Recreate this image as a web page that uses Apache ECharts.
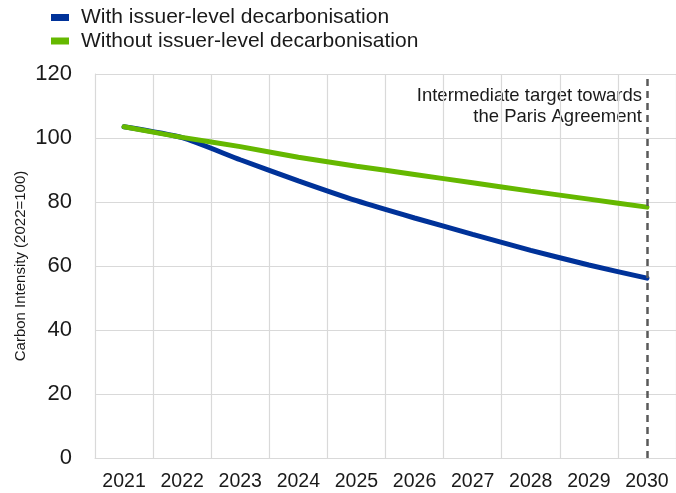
<!DOCTYPE html>
<html>
<head>
<meta charset="utf-8">
<script src="https://cdn.jsdelivr.net/npm/echarts@6/dist/echarts.min.js"></script>
<style>
  html, body { margin: 0; padding: 0; background: #fff; }
  #chart { width: 676px; height: 493px; }
</style>
</head>
<body>
<div id="chart"></div>
<script>
// Carbon intensity projections, indexed to 2022 = 100
const years = ['2021', '2022', '2023', '2024', '2025', '2026', '2027', '2028', '2029', '2030'];
const withIssuer = [103.5, 100.1, 93.2, 86.6, 80.4, 75.0, 69.9, 64.9, 60.3, 56.2];
const withoutIssuer = [103.5, 100.2, 97.3, 94.0, 91.2, 88.6, 86.0, 83.4, 80.9, 78.4];
const yTicks = { min: 0, max: 120, interval: 20 };
const targetYear = '2030';
const targetNote = 'Intermediate target towards\nthe Paris Agreement';

const FONT = '"Liberation Sans", Arial, sans-serif';
const TEXT = '#1a1a1a';
const GRID = '#d9d9d9';

const chart = echarts.init(document.getElementById('chart'), null, { renderer: 'canvas' });

chart.setOption({
  animation: false,
  backgroundColor: '#ffffff',
  textStyle: { fontFamily: FONT },
  legend: {
    orient: 'vertical',
    left: 46,
    top: 2,
    itemWidth: 18,
    itemHeight: 7,
    itemGap: 2.5,
    icon: 'rect',
    textStyle: { fontFamily: FONT, fontSize: 21, color: TEXT, padding: [0, 0, 0, 7] },
    data: ['With issuer-level decarbonisation', 'Without issuer-level decarbonisation']
  },
  grid: { left: 95, right: 0, top: 74, bottom: 35, containLabel: false },
  xAxis: {
    type: 'category',
    data: years,
    boundaryGap: true,
    axisLine: { show: true, lineStyle: { color: GRID, width: 1 } },
    axisTick: { show: false },
    splitLine: { show: true, lineStyle: { color: GRID, width: 1.2 } },
    axisLabel: { color: TEXT, fontSize: 19.5, fontFamily: FONT, margin: 14 }
  },
  yAxis: {
    type: 'value',
    min: yTicks.min,
    max: yTicks.max,
    interval: yTicks.interval,
    name: 'Carbon Intensity (2022=100)',
    nameLocation: 'middle',
    nameGap: 67,
    nameMoveOverlap: false,
    nameTextStyle: { fontSize: 15, color: TEXT, fontFamily: FONT },
    axisLine: { show: true, lineStyle: { color: GRID, width: 1 } },
    axisTick: { show: false },
    splitLine: { show: true, lineStyle: { color: GRID, width: 1.2 } },
    axisLabel: { color: TEXT, fontSize: 22, fontFamily: FONT, margin: 23 }
  },
  series: [
    {
      name: 'With issuer-level decarbonisation',
      type: 'line',
      data: withIssuer,
      smooth: 0.2,
      symbol: 'none',
      color: '#003299',
      lineStyle: { width: 5, color: '#003299', cap: 'round' },
      z: 3,
      markLine: {
        silent: true,
        symbol: 'none',
        label: { show: false },
        lineStyle: { color: '#595959', width: 2.5, type: [7, 5] },
        data: [{ xAxis: targetYear }]
      }
    },
    {
      name: 'Without issuer-level decarbonisation',
      type: 'line',
      data: withoutIssuer,
      smooth: 0.2,
      symbol: 'none',
      color: '#65b800',
      lineStyle: { width: 5, color: '#65b800', cap: 'round' },
      z: 4
    }
  ],
  graphic: [
    {
      type: 'text',
      x: 642,
      y: 85,
      style: {
        text: targetNote,
        font: '18.5px ' + FONT,
        fill: TEXT,
        align: 'right',
        verticalAlign: 'top',
        lineHeight: 21
      }
    }
  ]
});
</script>
</body>
</html>
